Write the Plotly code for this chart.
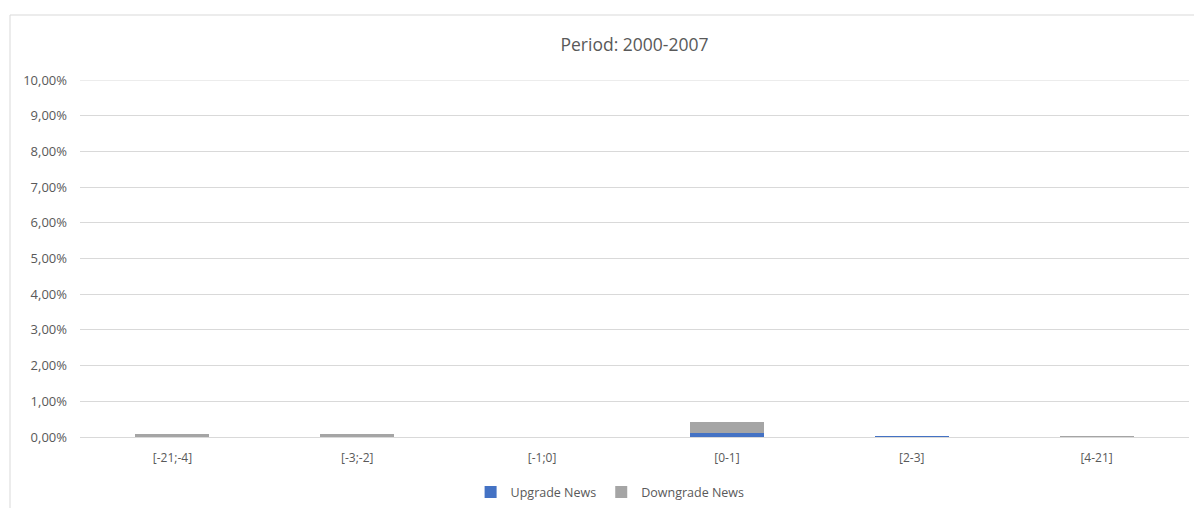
import plotly.graph_objects as go

# Event windows (days around the announcement)
categories = ["[-21;-4]", "[-3;-2]", "[-1;0]", "[0-1]", "[2-3]", "[4-21]"]

# Share of observations per window (fractions, shown as %)
upgrade_news = [0.0, 0.0, 0.0, 0.0012, 0.0001, 0.0]
downgrade_news = [0.0009, 0.0009, 0.0, 0.0031, 0.0, 0.0001]

y_ticks = [i / 100 for i in range(0, 11)]

FONT = "Open Sans, Noto Sans, sans-serif"
TEXT_COLOR = "#595959"
GRID_COLOR = "#d9d9d9"

fig = go.Figure()
fig.add_trace(go.Bar(name="Upgrade News", x=categories, y=upgrade_news,
                     marker=dict(color="#4472C4", line=dict(width=0))))
fig.add_trace(go.Bar(name="Downgrade News", x=categories, y=downgrade_news,
                     marker=dict(color="#A5A5A5", line=dict(width=0))))

fig.update_layout(
    width=1194, height=508,
    barmode="stack", bargap=0.6,
    separators=", ",
    paper_bgcolor="white", plot_bgcolor="white",
    margin=dict(l=80, r=5, t=80, b=71, autoexpand=False),
    font=dict(family=FONT, size=12, color=TEXT_COLOR),
    title=dict(text="Period: 2000-2007", x=0.5, xref="paper", xanchor="center",
               y=1 - 45 / 508, yanchor="middle",
               font=dict(family=FONT, size=17.5, color=TEXT_COLOR)),
    showlegend=True,
    legend=dict(orientation="h", x=0.478, xanchor="center", y=-0.155, yanchor="middle",
                font=dict(family=FONT, size=12.5, color=TEXT_COLOR),
                itemwidth=30, traceorder="normal"),
    xaxis=dict(showgrid=False, showline=False, ticks="", zeroline=False,
               automargin=False,
               tickfont=dict(family=FONT, size=12, color=TEXT_COLOR),
               ticklabelstandoff=12),
    yaxis=dict(range=[0, max(y_ticks)], tickvals=y_ticks, tickformat=".2%",
               showgrid=True, gridcolor=GRID_COLOR, gridwidth=1,
               zeroline=True, zerolinecolor=GRID_COLOR, zerolinewidth=1,
               showline=False, ticks="", automargin=False,
               tickfont=dict(family=FONT, size=13, color=TEXT_COLOR),
               ticklabelstandoff=12),
    shapes=[
        # outer chart-area frame
        dict(type="rect", xref="paper", yref="paper",
             x0=(10 - 80) / 1109, x1=1.2, y0=-0.5, y1=(437 - 15) / 357,
             line=dict(color=GRID_COLOR, width=1), fillcolor="rgba(0,0,0,0)",
             layer="below"),
        # gridline at the top of the value axis
        dict(type="line", xref="paper", yref="y",
             x0=0, x1=1, y0=max(y_ticks), y1=max(y_ticks),
             line=dict(color=GRID_COLOR, width=1.2), layer="above"),
    ],
)

fig.write_html("out.html")
